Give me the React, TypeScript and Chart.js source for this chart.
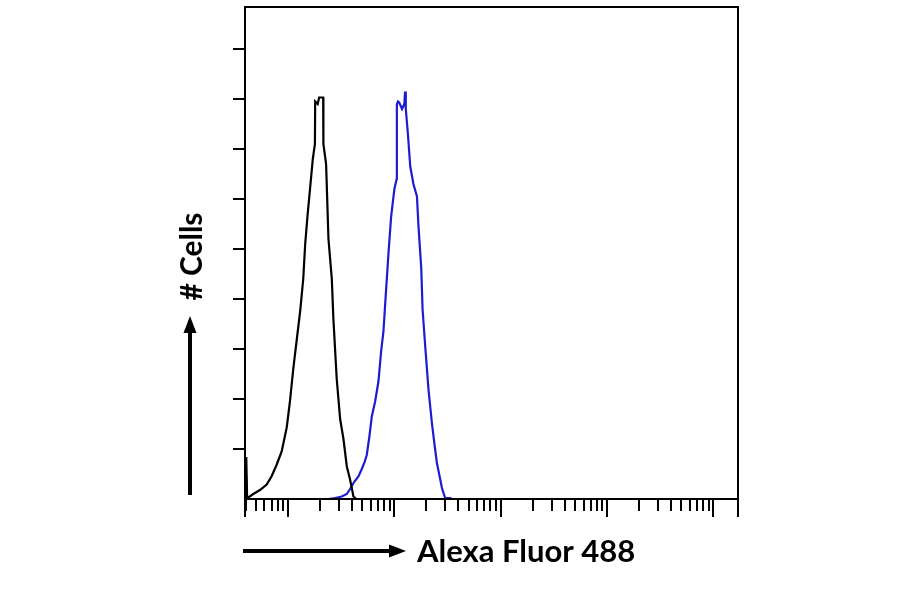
import { useEffect, useRef } from "react";
import { Chart, registerables } from "chart.js";

Chart.register(...registerables);

// axis range (log fluorescence) and counts
const X_MIN = 3.94;
const X_MAX = 170000;
const Y_MAX = 98.4;

const X_MAJOR_TICKS = [10, 100, 1000, 10000, 100000];
const X_MINOR_MANTISSAS = [2, 3, 4, 5, 6, 7, 8, 9];
const X_DECADES = [1, 10, 100, 1000, 10000, 100000];
const Y_TICKS = [10, 20, 30, 40, 50, 60, 70, 80, 90];

// isotype control (black)
const BLACK_X = [
  4.0, 4.05, 4.12, 4.23, 4.71, 5.45, 6.3, 7.03, 7.83, 8.72, 9.72, 10.4, 11.2, 12.1, 13.0, 13.9, 14.5,
  15.3, 16.1, 17.1, 17.9, 18.0, 19.0, 19.6, 21.4, 21.5, 22.8, 24.0, 25.8, 26.7, 28.7, 30.9, 33.2,
  35.7, 38.3, 41.2, 44.0,
];
const BLACK_COUNTS = [
  0, 8.4, 0.4, 0.3, 1.0, 1.8, 2.9, 4.6, 6.9, 9.5, 14.3, 19.3, 26, 32, 37.5, 44, 51, 57, 62, 68, 71,
  79.5, 79, 80.3, 80.3, 71, 67, 52, 44, 36, 24, 16, 12, 6.5, 3.9, 0.5, 0,
];

// antibody stained (blue)
const BLUE_X = [
  4.0, 4.05, 4.12, 4.2, 24.0, 27.7, 32.0, 35.7, 38.3, 42.1, 45.9, 49.4, 52.3, 55.0, 58.2, 61.3, 65.9,
  70.8, 75.0, 78.9, 82.5, 87.9, 93.2, 100, 105, 105.5, 108, 111, 118, 124, 126, 128, 134, 141, 151,
  163, 168, 179, 184, 195, 209, 225, 238, 251, 264, 280, 300, 335, 345,
];
const BLUE_COUNTS = [
  0, 4.4, 0, null, 0, 0.2, 0.5, 1.0, 2.0, 3.5, 4.5, 6.0, 7.3, 8.8, 12.5, 16.5, 19.5, 23.5, 29.5,
  33.5, 40, 49, 56.5, 62, 64, 78.9, 79.5, 79.3, 78, 79, 81.5, 78, 73, 66.5, 63, 60.5, 55, 46, 38,
  30.5, 22, 15.3, 11, 7.2, 4.9, 2.2, 0.2, 0.2, 0,
];

const X_TITLE = "Alexa Fluor 488";
const Y_TITLE = "# Cells";
const FONT = "bold 31px Lato, 'Open Sans', sans-serif";

const framePlugin = {
  id: "frame",
  afterDraw(chart: Chart) {
    const { ctx, chartArea: a } = chart;
    const xs = chart.scales.x;
    const ys = chart.scales.y;
    ctx.save();
    ctx.strokeStyle = "#000";
    ctx.fillStyle = "#000";
    ctx.lineWidth = 2;
    ctx.strokeRect(a.left, a.top, a.right - a.left, a.bottom - a.top);

    ctx.beginPath();
    for (const v of Y_TICKS) {
      const py = Math.round(ys.getPixelForValue(v));
      ctx.moveTo(a.left - 12, py);
      ctx.lineTo(a.left, py);
    }
    for (const d of X_DECADES) {
      for (const m of X_MINOR_MANTISSAS) {
        const v = m * d;
        if (v <= X_MIN || v >= X_MAX) continue;
        const px = Math.round(xs.getPixelForValue(v));
        ctx.moveTo(px, a.bottom);
        ctx.lineTo(px, a.bottom + 12);
      }
    }
    for (const v of X_MAJOR_TICKS) {
      const px = Math.round(xs.getPixelForValue(v));
      ctx.moveTo(px, a.bottom);
      ctx.lineTo(px, a.bottom + 18);
    }
    ctx.moveTo(a.left, a.bottom);
    ctx.lineTo(a.left, a.bottom + 18);
    ctx.moveTo(a.right, a.bottom);
    ctx.lineTo(a.right, a.bottom + 18);
    ctx.stroke();

    // x arrow
    const ay = a.bottom + 52;
    ctx.lineWidth = 4;
    ctx.beginPath();
    ctx.moveTo(a.left - 2, ay);
    ctx.lineTo(a.left + 147, ay);
    ctx.stroke();
    ctx.beginPath();
    ctx.moveTo(a.left + 161, ay);
    ctx.lineTo(a.left + 144, ay - 6.5);
    ctx.lineTo(a.left + 144, ay + 6.5);
    ctx.closePath();
    ctx.fill();

    // y arrow
    const ax = a.left - 55;
    ctx.beginPath();
    ctx.moveTo(ax, a.bottom - 4);
    ctx.lineTo(ax, 330);
    ctx.stroke();
    ctx.beginPath();
    ctx.moveTo(ax, 316);
    ctx.lineTo(ax - 6.5, 333);
    ctx.lineTo(ax + 6.5, 333);
    ctx.closePath();
    ctx.fill();

    ctx.font = FONT;
    ctx.textBaseline = "alphabetic";
    ctx.textAlign = "left";
    ctx.fillText(X_TITLE, 417, 561.5, 221);

    ctx.translate(202, 256.5);
    ctx.rotate(-Math.PI / 2);
    ctx.textAlign = "center";
    ctx.fillText(Y_TITLE, 0, 0, 88);
    ctx.restore();
  },
};

function toPoints(xs: number[], ys: (number | null)[]) {
  return xs.map((x, i) => ({ x, y: ys[i] }));
}

export default function App() {
  const canvasRef = useRef<HTMLCanvasElement>(null);

  useEffect(() => {
    if (!canvasRef.current) return;
    const chart = new Chart(canvasRef.current, {
      type: "line",
      data: {
        datasets: [
          {
            label: "Control",
            data: toPoints(BLACK_X, BLACK_COUNTS),
            borderColor: "#000000",
            borderWidth: 2.2,
            pointRadius: 0,
            tension: 0,
            spanGaps: false,
          },
          {
            label: "Stained",
            data: toPoints(BLUE_X, BLUE_COUNTS),
            borderColor: "#1c1cd4",
            borderWidth: 2.2,
            pointRadius: 0,
            tension: 0,
            spanGaps: false,
          },
        ],
      },
      options: {
        animation: false,
        responsive: false,
        maintainAspectRatio: false,
        layout: { padding: { left: 245, top: 7, right: 162, bottom: 95 } },
        plugins: { legend: { display: false }, tooltip: { enabled: false } },
        scales: {
          x: { type: "logarithmic", min: X_MIN, max: X_MAX, display: false },
          y: { type: "linear", min: 0, max: Y_MAX, display: false },
        },
      },
      plugins: [framePlugin],
    });
    return () => chart.destroy();
  }, []);

  return (
    <div style={{ position: "fixed", left: 0, top: 0, width: 900, height: 594, background: "#fff" }}>
      <canvas ref={canvasRef} width={900} height={594} style={{ display: "block" }} />
    </div>
  );
}
